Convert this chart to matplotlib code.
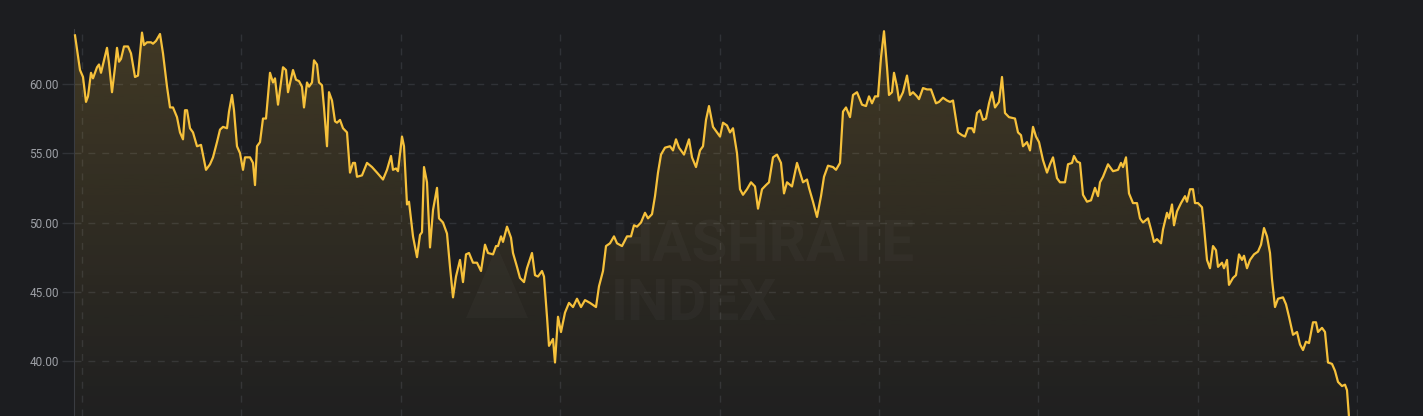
import matplotlib
matplotlib.use("Agg")
import matplotlib.pyplot as plt
import numpy as np
from matplotlib.patches import Polygon

# time index (arbitrary units, ~5.3 per day) and index value
t = [75, 80, 83, 86, 88, 91, 93, 97, 99, 101, 107, 109, 112, 115, 117, 119, 121, 124, 128, 131,
     135, 138, 142, 144, 147, 151, 153, 156, 160, 163, 167, 170, 173, 177, 180, 183, 185, 187, 190, 193,
     197, 201, 206, 210, 213, 217, 220, 223, 227, 229, 232, 234, 237, 240, 243, 245, 250, 253, 255, 257,
     260, 263, 266, 270, 273, 275, 278, 283, 286, 288, 293, 296, 299, 302, 304, 307, 309, 312, 314, 317,
     319, 322, 324, 327, 329, 332, 335, 337, 340, 343, 347, 350, 353, 355, 357, 362, 367, 372, 377, 383,
     387, 391, 393, 396, 398, 402, 404, 407, 409, 413, 417, 420, 422, 424, 427, 430, 433, 437, 439, 443,
     447, 450, 453, 456, 460, 463, 466, 469, 473, 477, 481, 485, 488, 493, 496, 498, 501, 503, 507, 511,
     513, 517, 520, 524, 527, 532, 535, 538, 542, 544, 547, 549, 553, 555, 558, 561, 565, 569, 573, 577,
     581, 585, 590, 596, 599, 603, 606, 610, 614, 617, 622, 627, 631, 634, 637, 641, 645, 648, 652, 655,
     658, 661, 665, 670, 673, 676, 679, 684, 689, 692, 696, 700, 703, 706, 709, 713, 717, 720, 723, 727,
     730, 733, 737, 740, 743, 747, 751, 755, 758, 762, 766, 769, 773, 777, 781, 784, 787, 792, 797, 800,
     803, 807, 809, 813, 817, 821, 824, 828, 833, 836, 840, 843, 846, 850, 853, 857, 862, 866, 869, 872,
     875, 878, 881, 884, 887, 889, 892, 894, 897, 899, 903, 907, 910, 913, 917, 919, 923, 927, 931, 933,
     936, 939, 943, 947, 950, 953, 956, 958, 962, 965, 968, 972, 974, 977, 980, 983, 986, 989, 992, 995,
     999, 1002, 1005, 1009, 1015, 1018, 1021, 1023, 1027, 1030, 1033, 1036, 1039, 1043, 1047, 1050, 1053, 1057, 1060, 1065,
     1068, 1072, 1074, 1077, 1080, 1083, 1087, 1091, 1095, 1098, 1100, 1103, 1108, 1113, 1118, 1121, 1123, 1126, 1129, 1133,
     1137, 1140, 1143, 1148, 1151, 1154, 1157, 1161, 1163, 1167, 1169, 1172, 1174, 1177, 1181, 1185, 1187, 1190, 1193, 1195,
     1198, 1202, 1204, 1207, 1210, 1213, 1216, 1218, 1222, 1224, 1227, 1229, 1233, 1236, 1239, 1242, 1244, 1247, 1250, 1254,
     1258, 1261, 1264, 1267, 1270, 1272, 1275, 1278, 1283, 1286, 1289, 1293, 1297, 1300, 1303, 1306, 1309, 1313, 1316, 1318,
     1322, 1325, 1328, 1332, 1335, 1338, 1342, 1345, 1347, 1350]

vals = [63.5, 61.0, 60.5, 58.7, 59.1, 60.8, 60.4, 61.2, 61.4, 60.8, 62.6, 61.5, 59.4, 61.2, 62.6, 61.6, 61.8, 62.7, 62.7, 62.2,
        60.5, 60.6, 63.7, 62.8, 63.0, 63.0, 62.9, 63.1, 63.6, 62.2, 59.8, 58.3, 58.3, 57.6, 56.5, 56.0, 58.1, 58.1, 56.8, 56.5,
        55.5, 55.6, 53.8, 54.2, 54.7, 55.8, 56.7, 56.9, 56.8, 58.0, 59.2, 58.1, 55.5, 55.0, 53.8, 54.7, 54.7, 54.3, 52.7, 55.5,
        55.8, 57.5, 57.5, 60.8, 60.1, 60.4, 58.5, 61.2, 61.0, 59.4, 61.0, 60.3, 60.2, 59.8, 58.3, 60.1, 59.8, 60.1, 61.7, 61.4,
        60.1, 59.9, 58.3, 55.5, 59.4, 58.8, 57.3, 57.2, 57.4, 56.8, 56.5, 53.6, 54.3, 54.3, 53.3, 53.4, 54.3, 54.0, 53.6, 53.1,
        53.8, 54.8, 53.8, 53.9, 53.7, 56.2, 55.5, 51.3, 51.5, 49.0, 47.5, 49.1, 49.3, 54.0, 52.9, 48.2, 50.9, 52.5, 50.3, 50.0,
        49.2, 46.8, 44.6, 46.1, 47.3, 45.7, 47.7, 47.8, 47.1, 47.1, 46.5, 48.4, 47.8, 47.7, 48.3, 48.3, 49.0, 48.6, 49.7, 48.9,
        47.8, 46.8, 46.0, 45.7, 46.7, 47.8, 46.2, 46.1, 46.5, 46.1, 43.2, 41.1, 41.6, 39.9, 43.2, 42.1, 43.5, 44.2, 43.9, 44.5,
        43.9, 44.4, 44.2, 43.9, 45.4, 46.5, 48.3, 48.5, 49.0, 48.5, 48.3, 49.0, 49.0, 49.8, 49.7, 50.0, 50.7, 50.3, 50.6, 51.9,
        53.6, 54.9, 55.4, 55.5, 55.2, 56.0, 55.4, 54.9, 56.0, 54.7, 54.0, 55.2, 55.5, 57.4, 58.4, 56.9, 56.5, 56.2, 57.2, 57.0,
        56.5, 56.8, 55.0, 52.4, 52.0, 52.4, 52.9, 52.6, 51.0, 52.4, 52.7, 52.9, 54.7, 54.9, 54.3, 52.1, 52.9, 52.6, 54.3, 53.6,
        52.9, 53.1, 52.5, 51.5, 50.4, 51.9, 53.3, 54.1, 54.0, 53.8, 54.3, 58.0, 58.3, 57.6, 59.2, 59.4, 58.5, 58.4, 59.1, 58.6,
        59.1, 59.1, 61.9, 63.8, 61.2, 59.2, 59.4, 60.8, 59.8, 58.8, 59.4, 60.6, 59.2, 59.4, 59.1, 58.9, 59.7, 59.6, 59.6, 59.2,
        58.6, 58.7, 59.0, 58.8, 58.7, 58.8, 57.4, 56.5, 56.3, 56.2, 56.8, 56.8, 56.5, 57.9, 58.1, 57.4, 57.5, 58.6, 59.4, 58.3,
        58.7, 60.5, 57.9, 57.6, 57.5, 56.5, 56.3, 55.5, 55.8, 55.2, 56.9, 56.2, 55.8, 54.5, 53.6, 54.2, 54.7, 53.2, 52.9, 52.9,
        54.2, 54.3, 54.8, 54.4, 54.3, 52.0, 51.5, 51.6, 52.5, 51.9, 52.9, 53.3, 54.2, 53.7, 53.8, 54.3, 54.0, 54.7, 52.1, 51.4,
        51.4, 50.3, 50.0, 50.3, 49.5, 48.6, 48.8, 48.5, 49.5, 50.7, 50.3, 51.3, 49.8, 50.8, 51.4, 51.9, 51.5, 52.4, 52.4, 51.4,
        51.4, 51.1, 49.7, 47.3, 46.7, 48.3, 48.0, 46.8, 47.1, 46.7, 47.3, 45.5, 46.0, 46.2, 47.7, 47.3, 47.6, 46.7, 47.3, 47.7,
        47.9, 48.4, 49.6, 49.0, 47.8, 45.9, 43.9, 44.5, 44.6, 44.1, 43.2, 41.9, 42.1, 41.2, 40.8, 41.4, 41.3, 42.8, 42.8, 42.1,
        42.4, 42.1, 39.9, 39.8, 39.3, 38.5, 38.2, 38.3, 37.9, 35.0]

yticks = [40, 45, 50, 55, 60]

bg = "#1c1d20"
gold = "#f6c13b"
gridc = "#303237"

fig = plt.figure(figsize=(14.23, 4.16), dpi=100, facecolor=bg)
ax = fig.add_axes([74 / 1423, 0, 1284 / 1423, 387 / 416], facecolor=bg)

ymin, ymax = 36.04, 63.96
xmin, xmax = 74, 1358
ax.set_xlim(xmin, xmax)
ax.set_ylim(ymin, ymax)

# vertical dashed grid lines (month marks)
for k in range(9):
    ax.axvline(82 + 159.4 * k, color=gridc, lw=1, ls=(0, (5, 5)), zorder=1)
for yv in yticks:
    ax.axhline(yv, xmax=0.998, color=gridc, lw=1, ls=(0, (5, 5)), zorder=1)

# gradient fill under the line
poly = ax.fill_between(t, vals, ymin, facecolor="none", edgecolor="none")
grad = np.zeros((256, 1, 4))
rgb = matplotlib.colors.to_rgb(gold)
grad[:, 0, :3] = rgb
grad[:, 0, 3] = np.linspace(0.17, 0.02, 256)
im = ax.imshow(grad, extent=[xmin, xmax, ymin, ymax], aspect="auto", origin="upper", zorder=2)
im.set_clip_path(poly.get_paths()[0], transform=ax.transData)

ax.plot(t, vals, color=gold, lw=1.6, solid_joinstyle="round", zorder=4, clip_on=False)

# watermark
wm = dict(color="white", alpha=0.028, fontsize=42, fontweight="bold", family=["Roboto", "DejaVu Sans"],
          transform=fig.transFigure, zorder=3)
fig.text(611 / 1423, 1 - 262 / 416, "HASHRATE", **wm)
fig.text(611 / 1423, 1 - 320 / 416, "INDEX", **wm)
tri = Polygon([(466 / 1423, 1 - 318 / 416), (497 / 1423, 1 - 246 / 416), (528 / 1423, 1 - 318 / 416)],
              closed=True, transform=fig.transFigure, facecolor="white", alpha=0.022, edgecolor="none")
fig.patches.append(tri)

ax.set_yticks(yticks)
ax.set_yticklabels(["%.2f" % v for v in yticks], color="#9c9fa5", fontsize=8.5, family=["Roboto", "DejaVu Sans"])
ax.set_xticks([])
ax.tick_params(axis="y", length=9, width=1, color=gridc, pad=2)
for s in ["top", "right", "bottom"]:
    ax.spines[s].set_visible(False)
ax.spines["left"].set_color("#3a3c41")

fig.savefig("out.png", dpi=100, facecolor=bg)
